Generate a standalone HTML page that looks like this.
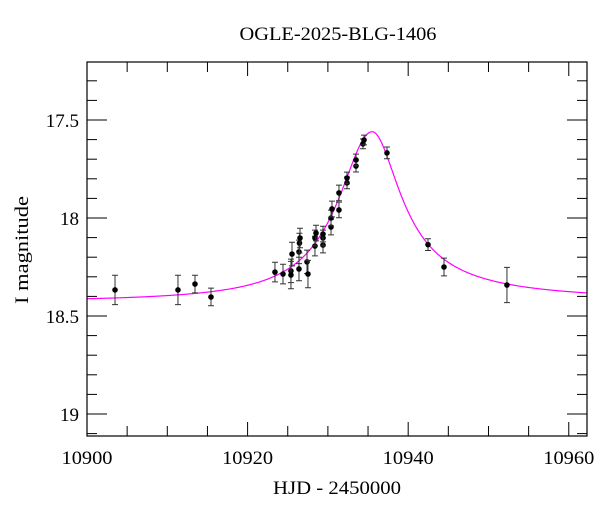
<!DOCTYPE html>
<html><head><meta charset="utf-8"><style>
body{margin:0;background:#fff}
svg text{font-family:"Liberation Serif",serif;fill:#000}
</style></head><body>
<svg id="chart" width="600" height="512" xmlns="http://www.w3.org/2000/svg">
<text x="338" y="40" font-size="19" text-anchor="middle" textLength="197" lengthAdjust="spacingAndGlyphs">OGLE-2025-BLG-1406</text>
<text x="337" y="494" font-size="19" text-anchor="middle" textLength="128" lengthAdjust="spacingAndGlyphs">HJD - 2450000</text>
<text transform="translate(28,250) rotate(-90)" font-size="19" text-anchor="middle" textLength="108" lengthAdjust="spacingAndGlyphs">I magnitude</text>
<g id="grid"></g>
<path id="model" fill="none" stroke="#ff00ff" stroke-width="1.2"/>
<g id="pts"></g>
<rect x="87" y="62" width="500" height="374" fill="none" stroke="#000" stroke-width="1.2"/>
</svg>
<script>
const hjd=[10903.49,10911.33,10913.45,10915.44,10923.41,10924.41,10925.40,10925.40,10925.53,10926.40,10926.40,10926.46,10926.53,10927.40,10927.52,10928.39,10928.39,10928.52,10929.39,10929.39,10929.39,10930.39,10930.39,10930.51,10931.38,10931.38,10932.38,10932.38,10933.50,10933.50,10934.37,10934.50,10937.36,10942.47,10944.46,10952.30];
const mag=[18.367,18.367,18.337,18.403,18.276,18.286,18.27,18.291,18.184,18.26,18.173,18.128,18.102,18.224,18.286,18.143,18.102,18.077,18.138,18.102,18.082,18.046,18.0,17.954,17.959,17.872,17.821,17.796,17.735,17.704,17.622,17.602,17.668,18.136,18.25,18.342];
const err=[0.075,0.075,0.045,0.045,0.05,0.05,0.06,0.07,0.06,0.06,0.06,0.05,0.05,0.06,0.07,0.05,0.04,0.04,0.04,0.04,0.04,0.04,0.04,0.04,0.04,0.04,0.03,0.03,0.03,0.03,0.025,0.025,0.03,0.03,0.045,0.09];
const xTicks=[10900,10920,10940,10960];
const yTicks=[17.5,18,18.5,19];
const modelT0=10935.5, modelPeak=17.56, modelBase=18.43, wL=5.16, wR=3.9;
const XMIN=10900, XMAX=10962.27;
const X=t=>87+(t-XMIN)*500/(XMAX-XMIN);
const Y=m=>120+(m-17.5)*196;
const ns='http://www.w3.org/2000/svg';
const svg=document.getElementById('chart'),g=document.getElementById('grid'),pg=document.getElementById('pts');
function mk(tag,at,par){const e=document.createElementNS(ns,tag);for(const k in at)e.setAttribute(k,at[k]);par.appendChild(e);return e;}
for(let d=10900;d<=XMAX;d+=5){const big=d%20===0,len=big?14:10;const x=X(d);
const a=mk('line',{x1:x,x2:x,y1:436,y2:436-len,stroke:'#000'},g);


const b=mk('line',{x1:x,x2:x,y1:62,y2:62+len,stroke:'#000'},g);

}
for(let i=0;i<=19;i++){const m=17.3+i*0.1;if(m>19.11)break;const y=Y(m);const big=Math.abs(m*2-Math.round(m*2))<1e-6;const len=big?20:10;
const a=mk('line',{x1:87,x2:87+len,y1:y,y2:y,stroke:'#000'},g);


const b=mk('line',{x1:587,x2:587-len,y1:y,y2:y,stroke:'#000'},g);

}
xTicks.forEach(t=>{const e=mk('text',{x:X(t),y:464,'font-size':19,'text-anchor':'middle',textLength:51,lengthAdjust:'spacingAndGlyphs'},svg);e.textContent=t;

});
yTicks.forEach(m=>{const e=mk('text',{x:79,y:Y(m)+7,'font-size':19,'text-anchor':'end'},svg);e.textContent=m;

});
let d='';for(let t=XMIN;t<=XMAX;t+=0.1){const dt=t-modelT0,h=modelBase-modelPeak;
const dm=dt<0?h/(1+(dt/wL)**2):h/Math.pow(1+(dt/wR)**2,0.75);
d+=(d?'L':'M')+X(t).toFixed(2)+','+Y(modelBase-dm).toFixed(2);}
document.getElementById('model').setAttribute('d',d);
hjd.forEach((t,i)=>{const x=X(t),y1=Y(mag[i]-err[i]),y2=Y(mag[i]+err[i]);
const eb=mk('path',{d:`M${x},${y1}V${y2}M${x-3},${y1}H${x+3}M${x-3},${y2}H${x+3}`,stroke:'#333',fill:'none'},pg);


const c=mk('circle',{cx:x,cy:Y(mag[i]),r:2.8,fill:'#000'},pg);

});
</script>
</body></html>
